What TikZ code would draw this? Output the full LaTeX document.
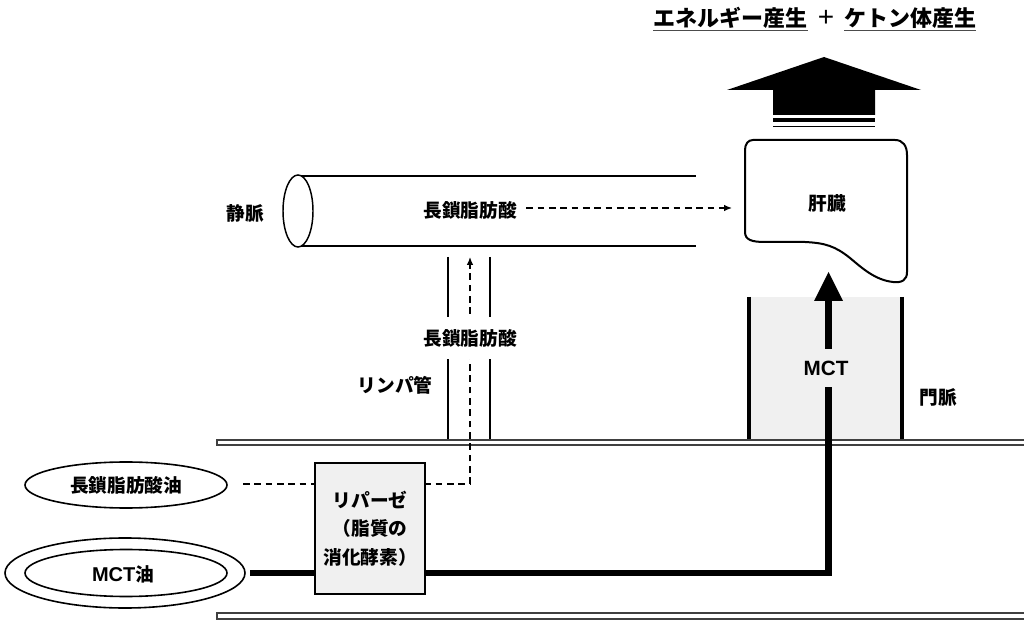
\documentclass[tikz,border=0pt]{standalone}
\usepackage{fontspec}
\setmainfont{Noto Sans CJK JP}
\newfontfamily\lat{Liberation Sans}
\usetikzlibrary{arrows.meta,shapes.geometric}
\definecolor{pale}{HTML}{F0F0F0}
\begin{document}
\begin{tikzpicture}[x=0.75pt,y=-0.75pt,
  lab/.style={font=\bfseries\fontsize{14}{17}\selectfont, inner sep=1pt},
  ttl/.style={font=\bfseries\fontsize{16.5}{19}\selectfont, inner sep=0pt},
  wall/.style={line width=1.2pt, draw=black!75},
  thinl/.style={line width=1.1pt},
  dashl/.style={line width=1pt, dash pattern=on 5pt off 3.5pt},
  dtip/.style={-{Latex[length=6pt,width=5pt]}},
  heavy/.style={line width=5.2pt},
  sidel/.style={line width=2.4pt}
]
\useasboundingbox (0,0) rectangle (1024,630);

% title
\node[ttl, anchor=base] (t1) at (730,27) {エネルギー産生};
\node[font=\lat\fontsize{21}{24}\selectfont, anchor=base, inner sep=0pt] (plus) at (826,27) {+};
\node[ttl, anchor=base] (t2) at (910,27) {ケトン体産生};
\draw[line width=1.3pt, black!70] (653,30.5) -- (808,30.5);
\draw[line width=1.3pt, black!70] (844,30.5) -- (976,30.5);

% big arrow
\fill (824,57) -- (921,90) -- (875,90) -- (875,115) -- (773,115) -- (773,90) -- (727,90) -- cycle;
\draw[line width=2.6pt] (773,120) -- (875,120);
\draw[line width=1.1pt] (773,126.5) -- (875,126.5);

% liver
\draw[line width=1.5pt] (753,140) -- (895,140) .. controls (903,140) and (907,146) .. (907,155)
  -- (907,272) .. controls (907,280) and (902,283) .. (893,282)
  .. controls (875,280) and (862,268) .. (850,258)
  .. controls (835,246) and (825,243) .. (805,242) -- (765,242)
  .. controls (752,242) and (745,240) .. (745,232) -- (745,150)
  .. controls (745,144) and (748,140) .. (753,140) -- cycle;
\node[lab] (liver) at (827,203) {肝臓};
\coordinate (liverin) at (732,208);

% vein
\draw[thinl] (298,176) -- (696,176);
\draw[thinl] (298,246) -- (696,246);
\draw[thinl, fill=white] (298,211) ellipse [x radius=15, y radius=36];
\node[lab] (veinfa) at (470,210) {長鎖脂肪酸};
\node[lab] (vein) at (245,213) {静脈};
\draw[dashl, dtip] (veinfa.east) ++(8,-2) coordinate (vs) (vs) -- (liverin);

% portal vein
\fill[pale] (749,297) rectangle (902,440);
\draw[sidel] (749,297) -- (749,440);
\draw[sidel] (902,297) -- (902,440);
\node[lab] (portal) at (938,397) {門脈};

% lymph
\draw[thinl] (448,257) -- (448,440);
\draw[thinl] (490,257) -- (490,440);
\node[lab] (lymph) at (395,385) {リンパ管};

% walls
\draw[wall] (1026,440) -- (217,440) -- (217,445) -- (1026,445);
\draw[wall] (1026,613) -- (217,613) -- (217,619) -- (1026,619);

% oils
\node[lab, draw, line width=1.2pt, ellipse, minimum width=151.5pt, minimum height=34.5pt, inner sep=0pt] (lcoil) at (126,485) {};
\node[lab] at (lcoil) {長鎖脂肪酸油};
\draw[line width=1.2pt] (125,573) ellipse [x radius=120, y radius=35];
\draw[line width=1.2pt] (126,573) ellipse [x radius=101, y radius=23.5];
\node[lab] (mctoil) at (123,574) {{\lat\bfseries\fontsize{15}{17}\selectfont MCT}油};
\coordinate (mctstart) at (250,573);

% dashed long chain route
\coordinate (lcend) at (243,484);
\coordinate (turn) at (470,484);
\coordinate (lymtop) at (470,257);
\draw[dashl] (lcend) -- (turn);
\draw[dashl, dtip] (turn) -- (lymtop);
\node[lab, fill=white, inner xsep=3pt, inner ysep=9pt] (lymphfa) at (470,338) {長鎖脂肪酸};

% MCT route
\coordinate (corner) at (828.5,573);
\coordinate (mcttip) at (828.5,300);
\draw[heavy] (mctstart) -- (corner) -- (mcttip);
\fill (828.5,272) -- (843,301) -- (814,301) -- cycle;
\node[font=\lat\bfseries\fontsize{15.5}{18}\selectfont, fill=pale, inner xsep=2pt, inner ysep=9pt] (mctl) at (826,368) {MCT};

% lipase box
\node[draw, line width=1.2pt, fill=pale, minimum width=82.5pt, minimum height=98pt, inner sep=0pt,
  font=\bfseries\fontsize{14}{21.5}\selectfont, align=center] (lipase) at (370,528.5)
  {リパーゼ\\（脂質の\\消化酵素）};

\end{tikzpicture}
\end{document}
